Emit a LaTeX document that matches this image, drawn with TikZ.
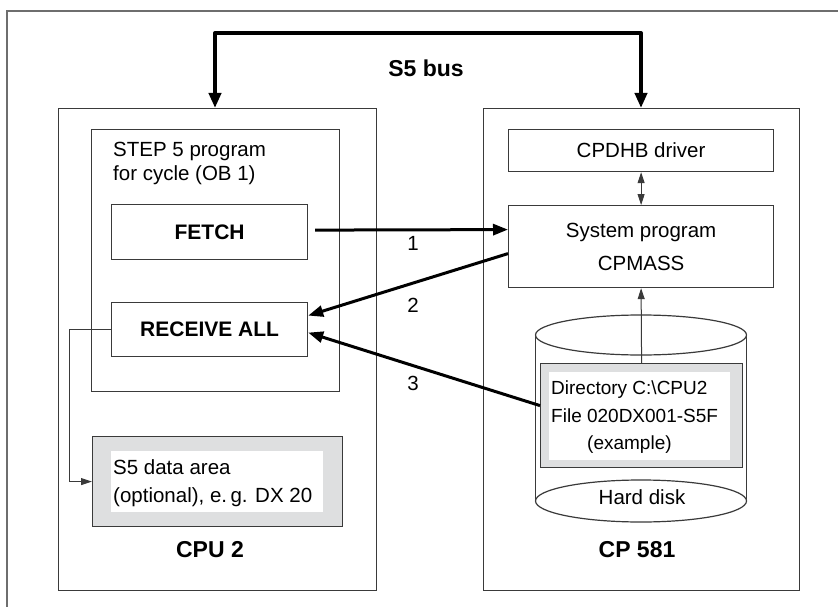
\documentclass[tikz,border=0pt]{standalone}
\usepackage{fontspec}
\setmainfont{Liberation Sans}
\usetikzlibrary{arrows.meta}
\definecolor{boxline}{HTML}{3A3A3A}
\definecolor{grayfill}{HTML}{DEDFE0}
\definecolor{framegray}{HTML}{6E6E6E}
\begin{document}
\begin{tikzpicture}[x=1pt,y=-1pt,
  box/.style={draw=boxline, line width=1.2pt, inner sep=0pt, anchor=north west},
  graybox/.style={box, fill=grayfill},
  whitearea/.style={fill=white, draw=none, inner sep=0pt, anchor=north west},
  txt/.style={font=\fontsize{20.5}{24}\selectfont, inner sep=0pt},
  boldtxt/.style={font=\bfseries\fontsize{21}{25}\selectfont, inner sep=0pt},
  labeltxt/.style={font=\bfseries\fontsize{23}{27}\selectfont, inner sep=0pt},
  busline/.style={line width=4pt, line cap=round},
  busarrow/.style={line width=4pt, -{Triangle[length=15pt,width=12pt]}},
  thickarrow/.style={line width=3pt, -{Triangle[length=15pt,width=11pt]}},
  thinarrow/.style={draw=boxline, line width=1pt, -{Triangle[length=11pt,width=7pt]}},
  thindouble/.style={draw=boxline, line width=1pt, {Triangle[length=11pt,width=7pt]}-{Triangle[length=11pt,width=7pt]}},
  cylline/.style={draw=boxline, line width=1.2pt}
]
\useasboundingbox (0,0) rectangle (838,607);

% outer frame (top and left edges visible)
\draw[framegray, line width=2pt] (7,607) -- (7,11) -- (838,11);

% main boxes
\node[box, minimum width=318pt, minimum height=482pt] (cpu) at (58,108) {};
\node[box, minimum width=316pt, minimum height=482pt] (cp) at (483,108) {};

% S5 bus
\coordinate (busL) at (215,33);
\coordinate (busR) at (641,33);
\draw[busline] (busL) -- (busR);
\draw[busarrow] (busL) -- (busL |- cpu.north);
\draw[busarrow] (busR) -- (busR |- cp.north);
\node[labeltxt] (bus) at (426,68) {S5 bus};

% CPU 2 side
\node[box, minimum width=248pt, minimum height=262pt] (step) at (91,129) {};
\node[txt, anchor=north west, align=left] (steptxt) at (113,142) {STEP 5 program\\for cycle (OB 1)};
\node[box, minimum width=196pt, minimum height=55pt, boldtxt] (fetch) at (111,204) {FETCH};
\node[box, minimum width=196pt, minimum height=54pt, boldtxt] (recv) at (111,302) {RECEIVE ALL};

\node[graybox, minimum width=250pt, minimum height=90pt] (s5) at (92,436) {};
\node[whitearea, minimum width=212pt, minimum height=61pt] (s5in) at (111,451) {};
\node[txt, anchor=north west, align=left, font=\fontsize{20.5}{28}\selectfont] (s5txt) at (113,459) {S5 data area\\(optional), e.\,g. DX 20};

\node[labeltxt] (cpulabel) at (210,550) {CPU 2};

% CP 581 side
\node[box, minimum width=265pt, minimum height=42pt, txt] (cpdhb) at (508,129) {CPDHB driver};
\node[box, minimum width=265pt, minimum height=82pt, txt, align=center, font=\fontsize{20.5}{33}\selectfont] (sys) at (508,205) {System program\\CPMASS};

% hard disk cylinder
\draw[cylline, fill=white] (535.5,335) -- (535.5,501) -- (746.5,501) -- (746.5,335) -- cycle;
\draw[cylline, fill=white] (641,335) ellipse [x radius=105.5pt, y radius=20pt];
\draw[cylline, fill=white] (641,501) ellipse [x radius=105.5pt, y radius=21pt];
\node[txt] (hd) at (642,497) {Hard disk};

\node[graybox, minimum width=202pt, minimum height=104pt] (dir) at (540,363) {};
\node[whitearea, minimum width=181pt, minimum height=88pt] (dirin) at (549,372) {};
\node[txt, anchor=north west, align=left, font=\fontsize{19}{27.5}\selectfont] (dirtxt) at (551,381) {Directory C:\textbackslash CPU2\\File 020DX001-S5F\\\hspace*{36pt}(example)};

\node[labeltxt] (cplabel) at (637,550) {CP 581};

% connectors
\draw[thindouble] (cpdhb.south) -- (sys.north);
\draw[thinarrow] (dir.north) -- (sys.south);
\draw[thinarrow] (recv.west) -- ++(-42,0) |- (s5.west);

\draw[thickarrow] ([xshift=7pt,yshift=2pt]fetch.east) -- ([yshift=17pt]sys.west);
\draw[thickarrow] ([yshift=-7pt]sys.west) -- ([yshift=14pt]recv.east);
\draw[thickarrow] ([yshift=10pt]dir.west) -- ([yshift=-3pt]recv.east);

\node[txt] (n1) at (413,243) {1};
\node[txt] (n2) at (413,305) {2};
\node[txt] (n3) at (413,383) {3};
\end{tikzpicture}
\end{document}
